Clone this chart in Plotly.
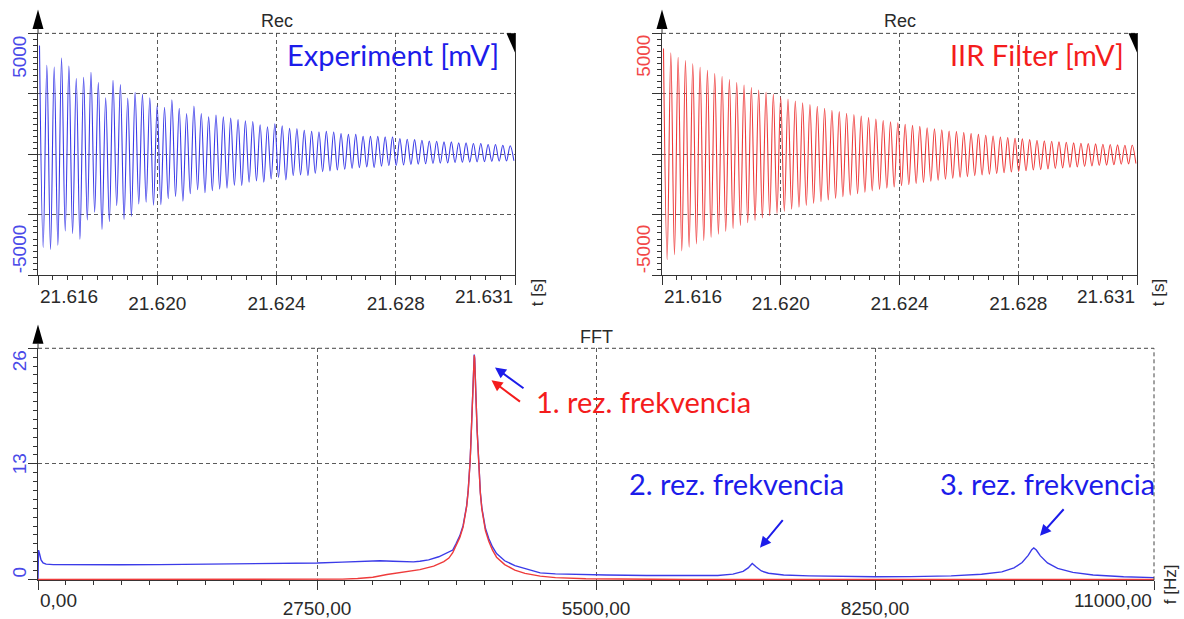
import numpy as np
import plotly.graph_objects as go

W, H = 1184, 619
def px(x): return x / W
def py(y): return 1 - y / H

# ---------------- data ----------------
t_start = 21.61605      # time of first peak [s]
period = 0.0002467      # oscillation period [s]

exp_peaks = [4495, 3677, 3607, 3976, 3648, 3133, 3186, 3391, 2969, 2340,
             3063, 2888, 2327, 2560, 2478, 2340, 2012, 1947, 2258, 1906,
             1685, 2000, 1685, 1550, 1620, 1550, 1497, 1440, 1387, 1358,
             1223, 1141, 1264, 1182, 1072, 1059, 990, 949, 924, 949,
             924, 855, 826, 826, 744, 744, 744, 720, 720, 650,
             622, 608, 581, 554, 540, 515, 515, 474, 474, 446,
             446, 405, 405, 376, 352]
exp_troughs = [-3849, -3930, -3753, -3166, -3276, -3509, -2716, -2389, -3100, -2785,
               -2119, -2691, -2568, -2049, -1980, -2102, -2078, -1832, -1750, -1939,
               -1628, -1464, -1587, -1505, -1436, -1395, -1284, -1284, -1149, -1096,
               -1149, -1014, -957, -1055, -875, -850, -877, -781, -713, -686,
               -646, -618, -577, -549, -520, -540, -490, -470, -460, -440,
               -420, -410, -390, -380, -365, -355, -340, -330, -320, -310,
               -300, -290, -280, -275, -265]
iir_peaks = [4372, 4196, 4016, 3881, 3746, 3595, 3472, 3337, 3215, 3092,
             2969, 2859, 2765, 2654, 2573, 2491, 2380, 2286, 2204, 2134,
             2053, 1988, 1906, 1824, 1767, 1701, 1644, 1579, 1521, 1456,
             1399, 1346, 1305, 1237, 1196, 1155, 1100, 1059, 1018, 964,
             937, 896, 855, 827, 787, 759, 719, 691, 664, 637,
             609, 582, 555, 541, 514, 500, 473, 459, 446, 432,
             418, 405, 391, 378, 378]
iir_troughs = [-4352, -4150, -3990, -3840, -3700, -3560, -3430, -3300, -3180, -3060,
               -2940, -2830, -2730, -2630, -2540, -2450, -2360, -2270, -2190, -2110,
               -2030, -1960, -1890, -1820, -1750, -1690, -1630, -1570, -1510, -1450,
               -1400, -1350, -1300, -1250, -1200, -1160, -1110, -1070, -1030, -990,
               -950, -920, -880, -850, -820, -790, -760, -730, -700, -680,
               -650, -630, -600, -580, -560, -540, -520, -500, -480, -460,
               -445, -430, -410, -395, -380]

time_ticks = [21.616, 21.620, 21.624, 21.628, 21.632]
time_labels = ["21.616", "21.620", "21.624", "21.628", "21.631"]
volt_ticks = [-5000, -2500, 0, 2500, 5000]
volt_labels = ["-5000", "5000"]

fft_freq_exp = [0, 5, 15, 30, 50, 80, 150, 400, 800, 1200,
                1600, 2000, 2400, 2750, 3000, 3200, 3370, 3500, 3620, 3700,
                3764, 3850, 3950, 4000, 4050, 4088, 4120, 4157, 4190, 4210,
                4225, 4240, 4250, 4259, 4265, 4272, 4279, 4284, 4288, 4292,
                4296, 4300, 4304, 4308, 4312, 4316, 4321, 4328, 4335, 4341,
                4350, 4360, 4375, 4390, 4410, 4443, 4480, 4520, 4600, 4700,
                4800, 4950, 5100, 5300, 5600, 6000, 6400, 6700, 6850, 6950,
                7000, 7040, 7080, 7130, 7200, 7350, 7600, 8000, 8250, 8600,
                9000, 9300, 9500, 9620, 9700, 9760, 9795, 9815, 9840, 9880,
                9950, 10050, 10200, 10400, 10700, 11000]
fft_amp_exp = [0.0, 3.3, 2.9, 2.2, 1.85, 1.72, 1.66, 1.64, 1.65, 1.67,
               1.70, 1.74, 1.79, 1.85, 1.95, 2.05, 2.10, 2.04, 1.98, 1.98,
               2.04, 2.2, 2.55, 2.8, 3.05, 3.3, 4.0, 4.9, 6.05, 7.15,
               8.3, 10.0, 11.5, 13.3, 14.9, 16.9, 19.2, 21.0, 22.5, 23.9,
               24.9, 25.3, 24.9, 23.9, 22.5, 21.0, 19.2, 16.9, 14.9, 13.3,
               11.4, 9.8, 8.05, 6.9, 5.75, 4.6, 3.65, 2.9, 2.1, 1.55,
               1.2, 0.74, 0.62, 0.55, 0.5, 0.45, 0.42, 0.45, 0.6, 0.9,
               1.3, 1.8, 1.4, 0.95, 0.7, 0.5, 0.4, 0.32, 0.3, 0.32,
               0.4, 0.58, 0.85, 1.3, 1.9, 2.7, 3.35, 3.55, 3.3, 2.65,
               1.85, 1.25, 0.8, 0.5, 0.3, 0.2]
fft_freq_iir = [0, 2800, 3000, 3150, 3300, 3440, 3600, 3764, 3900, 4000,
                4050, 4088, 4120, 4157, 4190, 4210, 4225, 4240, 4250, 4259,
                4265, 4272, 4279, 4284, 4288, 4292, 4296, 4300, 4304, 4308,
                4312, 4316, 4321, 4328, 4335, 4341, 4350, 4360, 4375, 4390,
                4410, 4443, 4480, 4520, 4600, 4700, 4800, 4950, 5100, 5400,
                5800, 6400, 11000]
fft_amp_iir = [0, 0, 0.03, 0.1, 0.25, 0.55, 0.82, 1.1, 1.5, 2.0,
               2.4, 3.0, 3.8, 4.7, 5.9, 7.0, 8.2, 9.9, 11.4, 13.2,
               14.8, 16.8, 19.1, 20.9, 22.4, 23.8, 24.8, 25.2, 24.8, 23.8,
               22.4, 20.9, 19.1, 16.8, 14.8, 13.2, 11.3, 9.7, 7.9, 6.7,
               5.5, 4.3, 3.3, 2.5, 1.67, 1.05, 0.68, 0.37, 0.2, 0.08,
               0.03, 0, 0]

freq_ticks = [0, 2750, 5500, 8250, 11000]
freq_labels = ["0,00", "2750,00", "5500,00", "8250,00", "11000,00"]
amp_ticks = [0, 13, 26]
amp_labels = ["0", "13", "26"]

# ---------------- colours / fonts ----------------
BLUE_LINE = '#3b3be8'
RED_LINE = '#ee3b3b'
BLUE_TXT = '#1c1cea'
RED_TXT = '#f41c1c'
BLUE_TICK = '#4a4ae8'
RED_TICK = '#f24848'
DARK = '#2a2a2a'
TICKFONT = 'Liberation Sans, Arial, sans-serif'
TEXTFONT = 'Lato, Carlito, Calibri, sans-serif'


def interleave(peaks, troughs):
    v = np.empty(len(peaks) + len(troughs))
    v[0::2] = peaks
    v[1::2] = troughs
    t = t_start + np.arange(len(v)) * period / 2
    return t, v


t_exp, v_exp = interleave(exp_peaks, exp_troughs)
t_iir, v_iir = interleave(iir_peaks, iir_troughs)

fig = go.Figure()
fig.add_trace(go.Scatter(x=t_exp, y=v_exp, mode='lines', line=dict(color=BLUE_LINE, width=1.1, shape='spline'),
                         xaxis='x', yaxis='y', hoverinfo='skip'))
fig.add_trace(go.Scatter(x=t_iir, y=v_iir, mode='lines', line=dict(color=RED_LINE, width=1.1, shape='spline'),
                         xaxis='x2', yaxis='y2', hoverinfo='skip'))
fig.add_trace(go.Scatter(x=fft_freq_exp, y=fft_amp_exp, mode='lines', line=dict(color=BLUE_LINE, width=1.4),
                         xaxis='x3', yaxis='y3', hoverinfo='skip'))
fig.add_trace(go.Scatter(x=fft_freq_iir, y=fft_amp_iir, mode='lines', line=dict(color=RED_LINE, width=1.4),
                         xaxis='x3', yaxis='y3', hoverinfo='skip'))

base = dict(showline=True, linecolor='#333', linewidth=1, ticks='outside', ticklen=9, tickcolor='#333',
            showgrid=True, gridcolor='#5a5a5a', griddash='4px,3px', gridwidth=1, zeroline=False,
            fixedrange=True, tickfont=dict(family=TICKFONT, size=19, color=DARK))

def xaxis_time(domain, anchor):
    return dict(base, domain=domain, anchor=anchor, range=[time_ticks[0], time_ticks[-1]],
                tickmode='array', tickvals=time_ticks,
                ticktext=[''] + time_labels[1:-1] + [''], ticklabelstandoff=2,
                minor=dict(tickmode='linear', tick0=time_ticks[0], dtick=0.0005, ticklen=4,
                           ticks='outside', tickcolor='#333', showgrid=False))

def yaxis_volt(domain, anchor):
    return dict(base, domain=domain, anchor=anchor, range=[volt_ticks[0], volt_ticks[-1]],
                tickmode='array', tickvals=volt_ticks, ticktext=['' for _ in volt_ticks],
                mirror=True,
                minor=dict(tickmode='linear', tick0=volt_ticks[0], dtick=250, ticklen=4,
                           ticks='outside', tickcolor='#333', showgrid=False))

YT = [py(278), py(33.7)]
fig.update_layout(
    xaxis=xaxis_time([px(38), px(515)], 'y'),
    yaxis=yaxis_volt(YT, 'x'),
    xaxis2=xaxis_time([px(662), px(1137)], 'y2'),
    yaxis2=yaxis_volt(YT, 'x2'),
    xaxis3=dict(base, domain=[px(38), px(1154)], anchor='y3', range=[freq_ticks[0], freq_ticks[-1]],
                tickmode='array', tickvals=freq_ticks, ticktext=[''] + freq_labels[1:-1] + [''],
                ticklabelstandoff=2, layer='below traces',
                minor=dict(tickmode='linear', tick0=0, dtick=275, ticklen=4, ticks='outside',
                           tickcolor='#333', showgrid=False)),
    yaxis3=dict(base, domain=[py(586), py(351.7)], anchor='x3', range=[-0.1, amp_ticks[-1]],
                tickmode='array', tickvals=amp_ticks, ticktext=['' for _ in amp_ticks],
                minor=dict(tickmode='linear', tick0=0, dtick=1, ticklen=4, ticks='outside',
                           tickcolor='#333', showgrid=False)),
    width=W, height=H, margin=dict(l=0, r=0, t=0, b=0),
    paper_bgcolor='white', plot_bgcolor='white', showlegend=False,
)

ann = []
shapes = []

def tick_ann(text, xref, x, anchor, y_px, color=DARK):
    ann.append(dict(text=text, xref=xref, x=x, yref='paper', y=py(y_px), xanchor=anchor, yanchor='middle',
                    showarrow=False, font=dict(family=TICKFONT, size=19, color=color)))

# end labels of x axes
for xr in ['x', 'x2']:
    tick_ann(time_labels[0], xr, time_ticks[0], 'left', 299)
    tick_ann(time_labels[-1], xr, time_ticks[-1], 'right', 299)
tick_ann(freq_labels[0], 'x3', freq_ticks[0], 'left', 606)
tick_ann(freq_labels[-1], 'x3', freq_ticks[-1], 'right', 606)

# rotated y labels
def ylab(text, xpx, yref, y, anchor, color):
    ann.append(dict(text=text, xref='paper', x=px(xpx), yref=yref, y=y, xanchor='center', yanchor=anchor,
                    textangle=-90, showarrow=False, font=dict(family=TICKFONT, size=19, color=color)))

for yr, off, col in [('y', 19.5, BLUE_TICK), ('y2', 643.5, RED_TICK)]:
    ylab(volt_labels[1], off, yr, volt_ticks[-1], 'top', col)
    ylab(volt_labels[0], off, yr, volt_ticks[0], 'bottom', col)
ylab(amp_labels[2], 19.5, 'y3', amp_ticks[2], 'top', BLUE_TICK)
ylab(amp_labels[1], 19.5, 'y3', amp_ticks[1], 'middle', BLUE_TICK)
ylab(amp_labels[0], 19.5, 'y3', amp_ticks[0], 'bottom', BLUE_TICK)

# axis unit labels
def unit(text, xpx, ypx):
    ann.append(dict(text=text, xref='paper', x=px(xpx), yref='paper', y=py(ypx), xanchor='center',
                    yanchor='middle', textangle=-90, showarrow=False,
                    font=dict(family=TICKFONT, size=17, color=DARK)))
unit('t [s]', 537, 296)
unit('t [s]', 1158, 296)
unit('f [Hz]', 1170, 590)

# titles
for txt, xc, yc in [('Rec', 276.5, 21.5), ('Rec', 899.5, 21.5), ('FFT', 596, 340)]:
    ann.append(dict(text=txt, xref='paper', x=px(xc), yref='paper', y=py(yc), xanchor='center',
                    yanchor='middle', showarrow=False, font=dict(family=TICKFONT, size=18, color=DARK)))

# big texts
def big(text, xr, ypx, color, anchor='right'):
    ann.append(dict(text=text, xref='paper', x=px(xr), yref='paper', y=py(ypx), xanchor=anchor,
                    yanchor='middle', showarrow=False, font=dict(family=TEXTFONT, size=29, color=color)))
big('Experiment [mV]', 501, 55, BLUE_TXT)
big('IIR Filter [mV]', 1126, 55, RED_TXT)
big('1. rez. frekvencia', 534, 405, RED_TXT, 'left')
big('2. rez. frekvencia', 627, 488, BLUE_TXT, 'left')
big('3. rez. frekvencia', 938, 488, BLUE_TXT, 'left')

# arrows
def arrow(hx, hy, tx, ty, color):
    ann.append(dict(text='', xref='paper', yref='paper', x=px(hx), y=py(hy), ax=tx - hx, ay=ty - hy,
                    axref='pixel', ayref='pixel', showarrow=True, arrowhead=2, arrowsize=1.1,
                    arrowwidth=2, arrowcolor=color))
arrow(495, 371, 525, 393, BLUE_TXT)
arrow(491.5, 384, 521.5, 406.5, RED_TXT)
arrow(760, 553, 784, 524, BLUE_TXT)
arrow(1040, 541, 1065, 513, BLUE_TXT)

# decorations: y axis arrows, dashed top/right borders, corner wedges
def pth(points):
    return 'M ' + ' L '.join(f'{px(a):.5f},{py(b):.5f}' for a, b in points) + ' Z'

for xa, ytop in [(38, 33.7), (662, 33.7), (38, 351.7)]:
    shapes.append(dict(type='path', xref='paper', yref='paper',
                       path=pth([(xa, ytop - 24), (xa - 5.5, ytop - 4.5), (xa + 5.5, ytop - 4.5)]),
                       fillcolor='black', line=dict(width=0)))
    shapes.append(dict(type='line', xref='paper', yref='paper', x0=px(xa), x1=px(xa), y0=py(ytop - 5),
                       y1=py(ytop), line=dict(color='#333', width=1)))

for xr, yr in [('x', 'y'), ('x2', 'y2'), ('x3', 'y3')]:
    shapes.append(dict(type='line', xref=f'{xr} domain', yref=f'{yr} domain', x0=0, x1=1, y0=1, y1=1,
                       line=dict(color='#444', width=1, dash='4px,3px')))
shapes.append(dict(type='line', xref='x3 domain', yref='y3 domain', x0=1, x1=1, y0=0, y1=1,
                   line=dict(color='#444', width=1, dash='4px,3px')))

for xr in [515, 1137]:
    shapes.append(dict(type='path', xref='paper', yref='paper',
                       path=pth([(xr - 8.5, 33.7), (xr, 33.7), (xr, 53)]),
                       fillcolor='black', line=dict(width=0)))

fig.update_layout(annotations=ann, shapes=shapes)
fig.write_html('out.html')
